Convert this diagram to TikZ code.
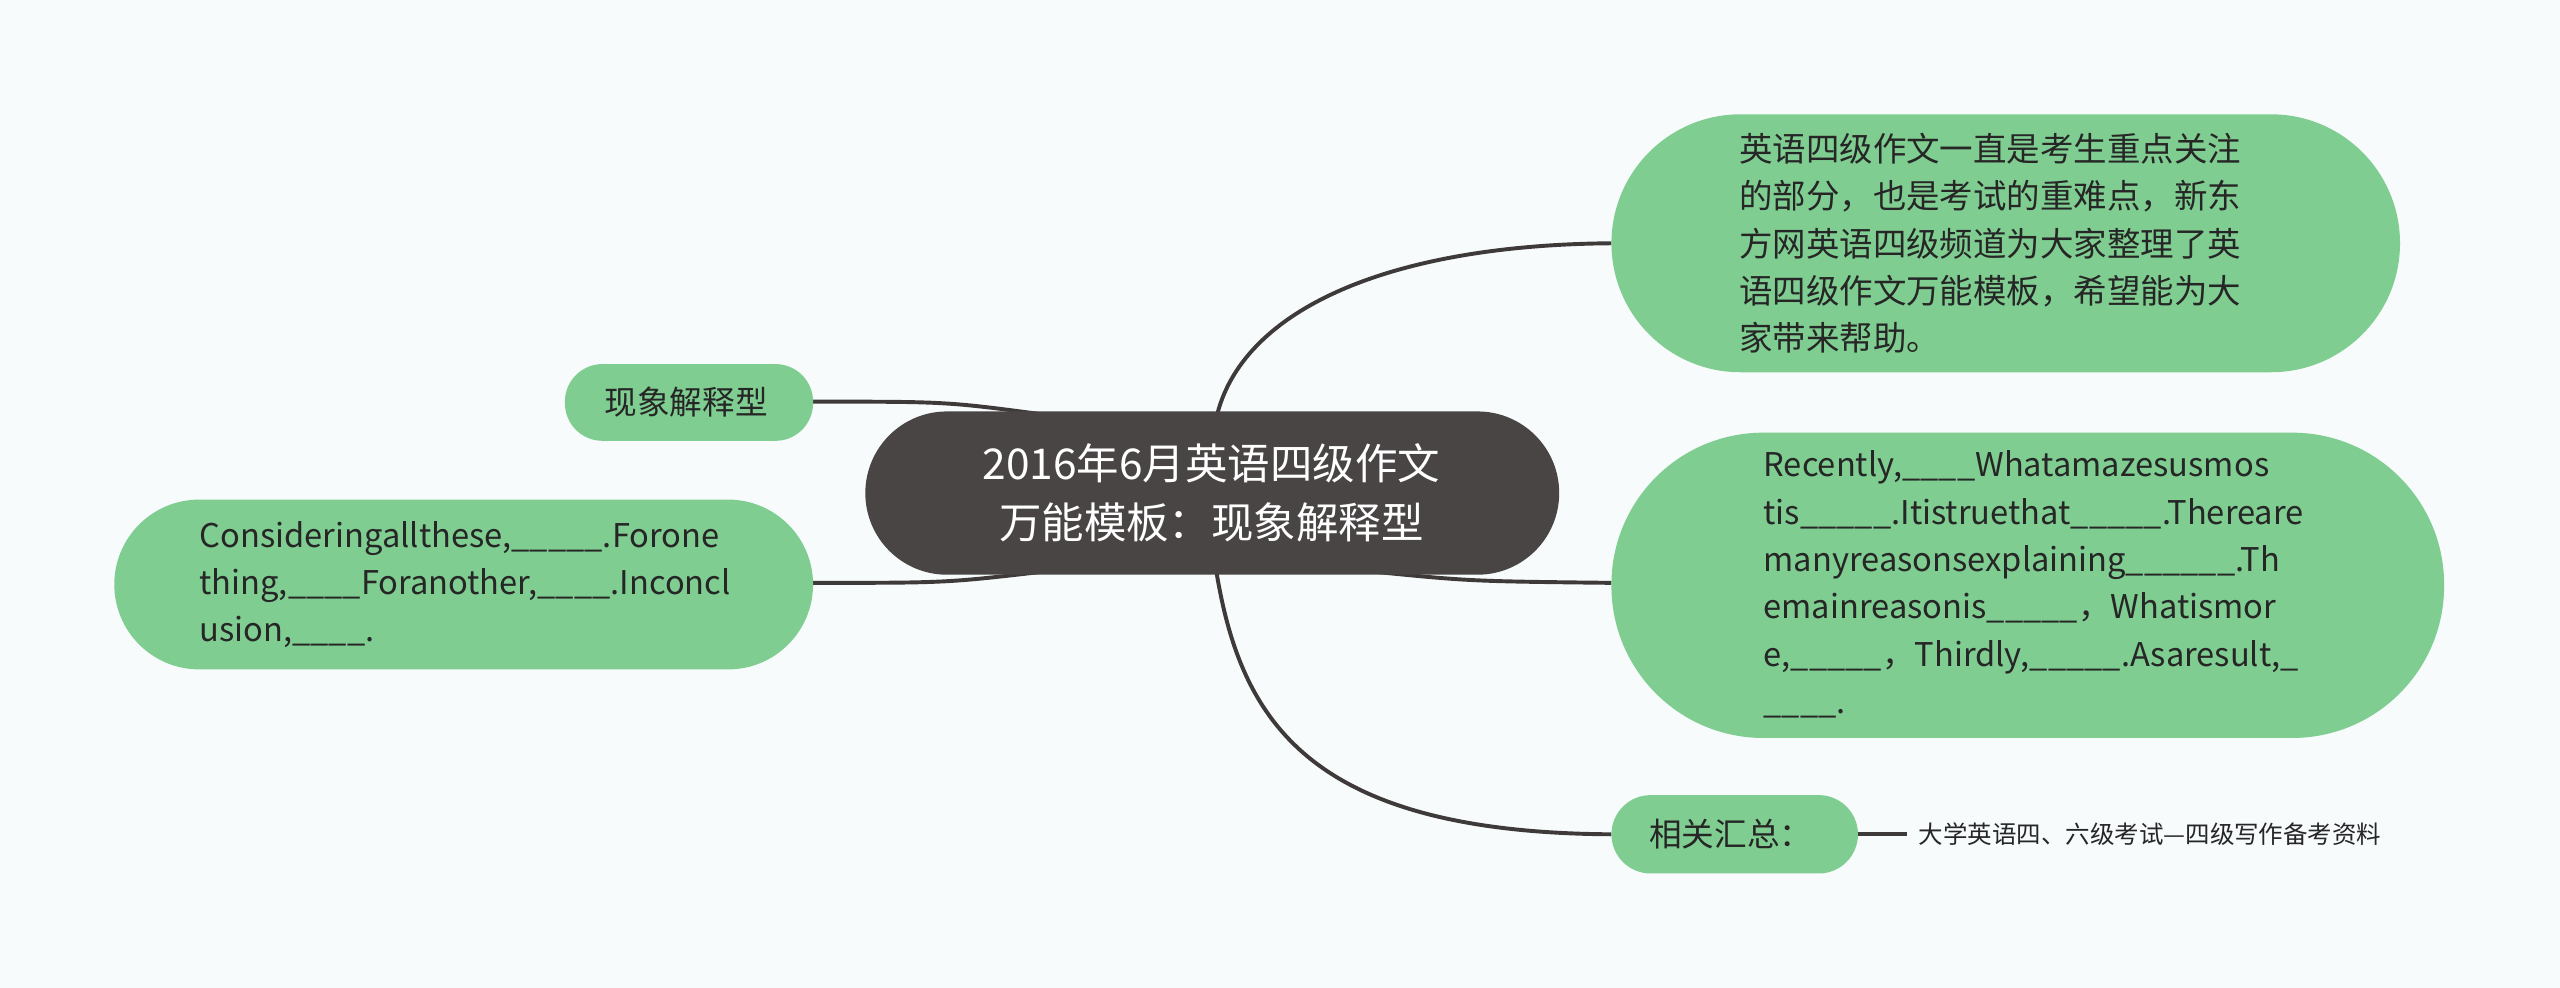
\documentclass[tikz,border=0pt]{standalone}
\usepackage{fontspec}
\setmainfont{Noto Sans CJK SC}
\definecolor{bg}{HTML}{F7FBFC}
\definecolor{gr}{HTML}{7FCD91}
\definecolor{dk}{HTML}{4A4545}
\definecolor{ln}{HTML}{3F3A3A}
\tikzset{
 pill/.style={fill=gr,rounded corners=#1,inner sep=0pt},
 lk/.style={draw=ln,line width=2.4pt},
 tx/.style={align=left,font=\fontsize{20}{29}\selectfont,text=black!85,anchor=west,inner sep=0pt}
}
\begin{document}
\begin{tikzpicture}[x=1pt,y=-1pt]
\fill[bg] (0,0) rectangle (1568,605);
\useasboundingbox (0,0) rectangle (1568,605);
% connectors
\draw[lk] (745,256) .. controls (760,190) and (850,150) .. (987,149);
\draw[lk] (745,350) .. controls (760,440) and (800,510) .. (987,511);
\draw[lk] (840,350) .. controls (900,356) .. (987,357);
\draw[lk] (640,254) .. controls (580,246) .. (498,246);
\draw[lk] (640,350) .. controls (580,357) .. (498,357);
\draw[lk] (1138,511) -- (1168,511);
% nodes
\fill[pill=50pt,fill=dk] (530,252) rectangle (955,352);
\node[align=center,text=white,font=\fontsize{26}{36}\selectfont] (c) at (742,302) {2016年6月英语四级作文\\万能模板：现象解释型};
\fill[pill=79pt] (987,70) rectangle (1470,228);
\node[tx,font=\fontsize{20.5}{29}\selectfont] (a) at (1065,149) {英语四级作文一直是考生重点关注\\的部分，也是考试的重难点，新东\\方网英语四级频道为大家整理了英\\语四级作文万能模板，希望能为大\\家带来帮助。};
\fill[pill=93pt] (987,265) rectangle (1497,452);
\node[tx] (b) at (1080,358) {Recently,\_\_\_\_Whatamazesusmos\\tis\_\_\_\_\_.Itistruethat\_\_\_\_\_.Thereare\\manyreasonsexplaining\_\_\_\_\_\_.Th\\emainreasonis\_\_\_\_\_，Whatismor\\e,\_\_\_\_\_，Thirdly,\_\_\_\_\_.Asaresult,\_\\\_\_\_\_.};
\fill[pill=24pt] (987,487) rectangle (1138,535);
\node[tx] (r) at (1010,511) {相关汇总：};
\node[tx,font=\fontsize{15}{18}\selectfont] (r2) at (1175,511) {大学英语四、六级考试---四级写作备考资料};
\fill[pill=23pt] (346,223) rectangle (498,270);
\node[tx] (p) at (370,246) {现象解释型};
\fill[pill=52pt] (70,306) rectangle (498,410);
\node[tx] (l) at (122,358) {Consideringallthese,\_\_\_\_\_.Forone\\thing,\_\_\_\_Foranother,\_\_\_\_.Inconcl\\usion,\_\_\_\_.};
\end{tikzpicture}
\end{document}
